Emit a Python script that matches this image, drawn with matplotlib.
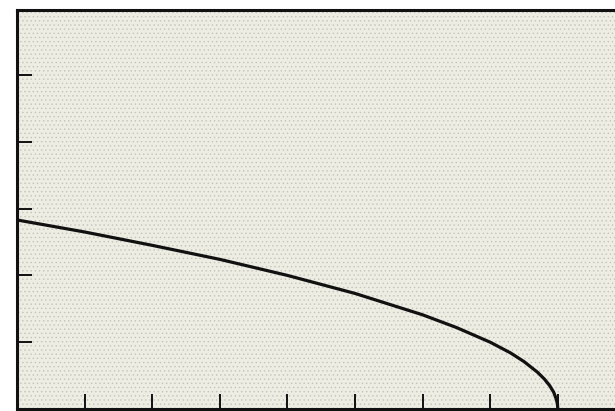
import matplotlib
matplotlib.use("Agg")
import matplotlib.pyplot as plt

# curve (x in tick units, y in tick units)
curve_x = [0, 1, 2, 3, 4, 5, 6, 6.5, 7, 7.3, 7.5, 7.7, 7.8, 7.88, 7.94, 7.98, 7.995, 8.0]
curve_y = [2.83, 2.65, 2.45, 2.24, 2.0, 1.73, 1.41, 1.22, 1.0, 0.84, 0.71, 0.55, 0.45, 0.35, 0.25, 0.14, 0.07, 0.0]
x_ticks = [1, 2, 3, 4, 5, 6, 7, 8]
y_ticks = [1, 2, 3, 4, 5]

plt.rcParams["hatch.linewidth"] = 0.5

fig = plt.figure(figsize=(6.15, 4.11), dpi=100)
ax = fig.add_axes([17 / 615, 2 / 411, 598 / 615, 399 / 411])

# speckled paper look
ax.set_facecolor("#ededE3")
ax.patch.set_hatch("....")
ax.patch.set_edgecolor("#c4c4b9")

ax.plot(curve_x, curve_y, color="#111111", lw=2.3, solid_capstyle="butt")

ax.set_xlim(0, 598 / 67.6)
ax.set_ylim(0, 399 / 66.8)
ax.set_xticks(x_ticks)
ax.set_yticks(y_ticks)
ax.set_xticklabels([])
ax.set_yticklabels([])
ax.tick_params(direction="in", length=11, width=1.4, color="#111111")

ax.spines["right"].set_visible(False)
for side in ["left", "top", "bottom"]:
    ax.spines[side].set_linewidth(2.2)
    ax.spines[side].set_color("#111111")

fig.savefig("out.png", dpi=100)
